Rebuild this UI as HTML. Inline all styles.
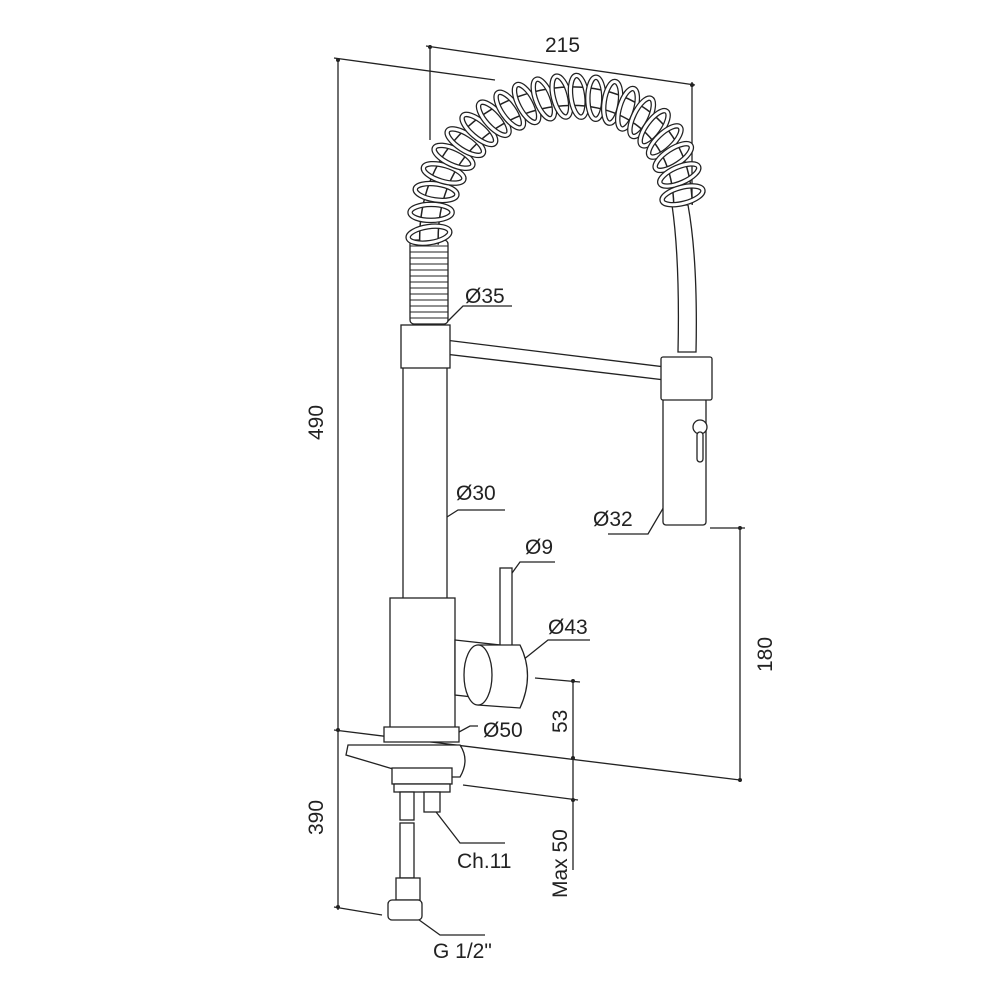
<!DOCTYPE html>
<html><head><meta charset="utf-8"><style>
html,body{margin:0;padding:0;background:#fff}
svg{display:block}
text{font-family:"Liberation Sans",sans-serif;font-size:21px;fill:#222}
</style></head><body>
<svg id="s" width="1000" height="1000" viewBox="0 0 1000 1000" xmlns="http://www.w3.org/2000/svg">
<g stroke="#222" stroke-width="1.3" fill="none">
<line x1="338" y1="60" x2="338" y2="910"/>
<line x1="334" y1="58" x2="495" y2="80"/>
<line x1="334" y1="730" x2="740" y2="780"/>
<line x1="334" y1="907" x2="382" y2="915"/>
<line x1="430" y1="45" x2="430" y2="140"/>
<line x1="692" y1="82" x2="692" y2="200"/>
<line x1="426" y1="46" x2="695" y2="85"/>
<line x1="740" y1="528" x2="740" y2="782"/>
<line x1="710" y1="528" x2="745" y2="528"/>
<line x1="573" y1="680" x2="573" y2="870"/>
<line x1="535" y1="678" x2="580" y2="682"/>
<line x1="463" y1="785" x2="578" y2="800"/>
<polyline points="447,322 463,306 512,306"/>
<polyline points="436,524 458,510 505,510"/>
<polyline points="665,505 648,534 608,534"/>
<polyline points="507,580 520,562 555,562"/>
<polyline points="523,660 548,640 590,640"/>
<polyline points="448,738 470,726 478,726"/>
<polyline points="433,808 460,843 505,843"/>
<polyline points="415,917 440,935 485,935"/>
</g>
<g fill="#222">
<circle cx="338" cy="60" r="2"/><circle cx="338" cy="730" r="2"/><circle cx="338" cy="907" r="2"/>
<circle cx="430" cy="47" r="2"/><circle cx="692" cy="85" r="2"/>
<circle cx="740" cy="528" r="2"/><circle cx="740" cy="780" r="2"/>
<circle cx="573" cy="681" r="2"/><circle cx="573" cy="758" r="2"/><circle cx="573" cy="800" r="2"/>
<circle cx="436" cy="524" r="2"/><circle cx="665" cy="505" r="2"/><circle cx="523" cy="660" r="2"/>
</g>
<g stroke="#222" stroke-width="1.3" fill="#fff">
<path d="M672,205 Q680,260 678,352 L696,352 Q698,260 688,205 Z"/>
<path d="M445,340 L665,367 L665,380 L445,354 Z"/>
<rect x="403" y="365" width="44" height="240"/>
<rect x="401" y="325" width="49" height="43"/>
<rect x="410" y="240" width="38" height="84" rx="4"/>
<rect x="663" y="398" width="43" height="127" rx="3"/>
<rect x="661" y="357" width="51" height="43" rx="2"/>
<circle cx="700" cy="427" r="7"/>
<rect x="697" y="432" width="6" height="30" rx="3"/>
<rect x="390" y="598" width="65" height="138"/>
<path d="M455,640 L500,645 L500,700 L455,695 Z"/>
<rect x="500" y="568" width="12" height="82"/>
<path d="M478,645 Q465,675 478,705 L520,708 Q535,675 520,645 Z"/>
<ellipse cx="478" cy="675" rx="14" ry="30"/>
<path d="M384,727 L459,727 L459,742 L384,742 Z"/>
<path d="M348,745 L460,745 Q470,760 460,777 L420,777 L346,755 Z"/>
<rect x="392" y="768" width="60" height="16"/>
<rect x="394" y="784" width="56" height="8"/>
<rect x="400" y="792" width="14" height="28"/>
<rect x="424" y="792" width="16" height="20"/>
<rect x="400" y="823" width="14" height="55"/>
<rect x="396" y="878" width="24" height="22"/>
<rect x="388" y="900" width="34" height="20" rx="4"/>
</g>
<g stroke="#222" stroke-width="1" id="bel"></g>
<g stroke="#222" stroke-width="1.3" fill="none" id="spr"></g>
<text x="545" y="52">215</text>
<text transform="translate(323,440) rotate(-90)">490</text>
<text transform="translate(323,835) rotate(-90)">390</text>
<text transform="translate(772,672) rotate(-90)">180</text>
<text transform="translate(567,733) rotate(-90)">53</text>
<text transform="translate(567,898) rotate(-90)">Max 50</text>
<text x="465" y="303">Ø35</text>
<text x="456" y="500">Ø30</text>
<text x="593" y="526">Ø32</text>
<text x="525" y="554">Ø9</text>
<text x="548" y="634">Ø43</text>
<text x="483" y="737">Ø50</text>
<text x="457" y="868">Ch.11</text>
<text x="433" y="958">G 1/2"</text>
</svg>
<script>
var ns="http://www.w3.org/2000/svg";
var bel=document.getElementById("bel");
for(var y=246;y<322;y+=6){var l=document.createElementNS(ns,"line");l.setAttribute("x1",410);l.setAttribute("x2",448);l.setAttribute("y1",y);l.setAttribute("y2",y);bel.appendChild(l);}
var spr=document.getElementById("spr");
function B(t,a,b,c,d){var u=1-t;return u*u*u*a+3*u*u*t*b+3*u*t*t*c+t*t*t*d;}
var P=[[429,245],[423,70],[680,40],[683,205]];
var h=document.createElementNS(ns,"path");
h.setAttribute("d","M429,245 C423,70 680,40 683,205");h.setAttribute("stroke-width","20");h.setAttribute("stroke","#222");spr.appendChild(h);
var h2=document.createElementNS(ns,"path");
h2.setAttribute("d","M429,245 C423,70 680,40 683,205");h2.setAttribute("stroke-width","17");h2.setAttribute("stroke","#fff");spr.appendChild(h2);
var N=22;
for(var i=0;i<N;i++){var t=0.02+i*(0.96/(N-1));
var x=B(t,P[0][0],P[1][0],P[2][0],P[3][0]),y=B(t,P[0][1],P[1][1],P[2][1],P[3][1]);
var dt=0.001,x2=B(t+dt,P[0][0],P[1][0],P[2][0],P[3][0]),y2=B(t+dt,P[0][1],P[1][1],P[2][1],P[3][1]);
var ang=Math.atan2(y2-y,x2-x)*180/Math.PI;
var e=document.createElementNS(ns,"ellipse");
e.setAttribute("cx",x);e.setAttribute("cy",y);e.setAttribute("rx",8);e.setAttribute("ry",21);
e.setAttribute("transform","rotate("+(ang-10)+" "+x+" "+y+")");
e.setAttribute("fill","none");e.setAttribute("stroke","#222");e.setAttribute("stroke-width","5.5");spr.appendChild(e);
var e2=e.cloneNode();e2.setAttribute("stroke","#fff");e2.setAttribute("stroke-width","3");spr.appendChild(e2);}
</script>
</body></html>
